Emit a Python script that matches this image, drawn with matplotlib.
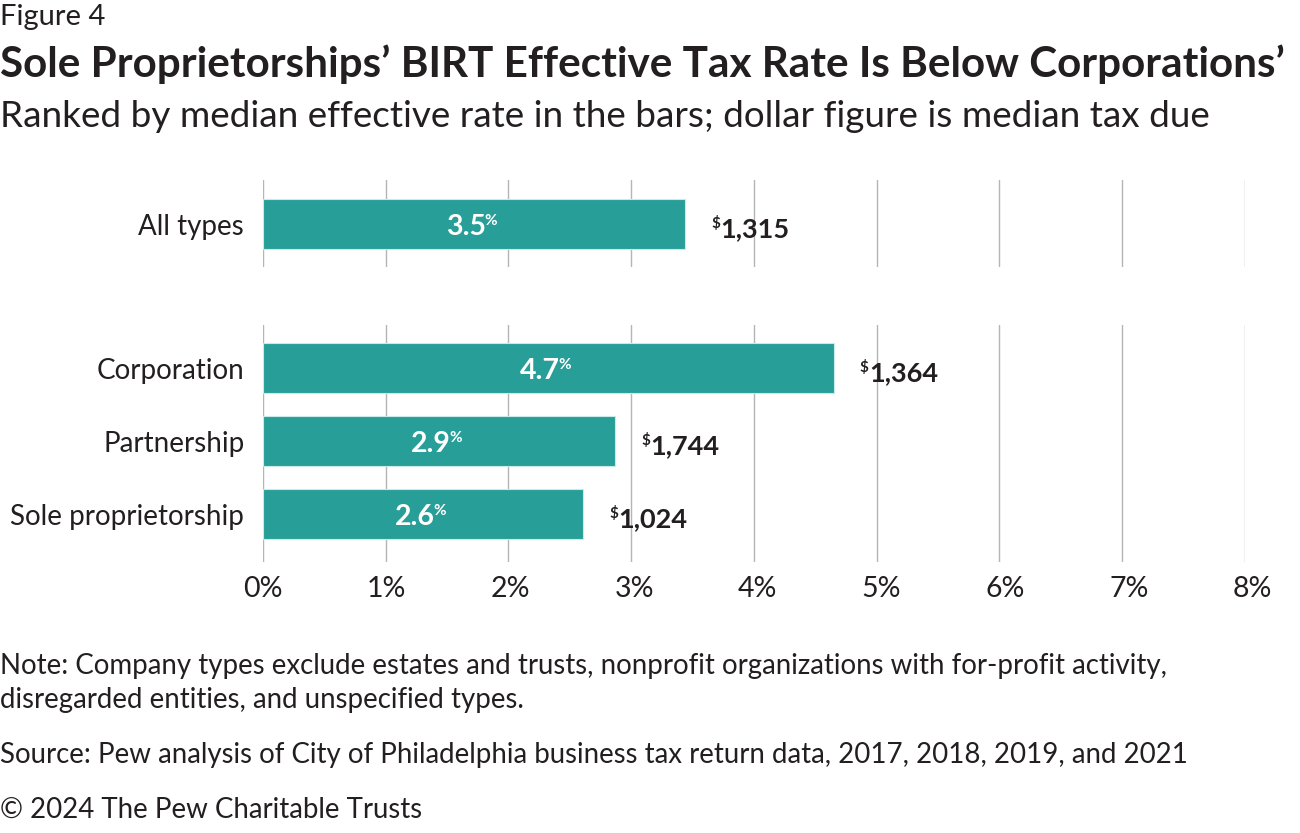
import matplotlib
matplotlib.use("Agg")
import matplotlib.pyplot as plt
from matplotlib.transforms import ScaledTranslation

plt.rcParams['font.family'] = ['Lato', 'DejaVu Sans']

# ---- data ----
top_categories = ["All types"]
top_rates = [3.44]
top_rate_labels = ["3.5"]
top_tax_labels = ["1,315"]

categories = ["Corporation", "Partnership", "Sole proprietorship"]
rates = [4.65, 2.87, 2.61]
rate_labels = ["4.7", "2.9", "2.6"]
tax_labels = ["1,364", "1,744", "1,024"]

x_ticks = [0, 1, 2, 3, 4, 5, 6, 7, 8]
x_tick_labels = ["0%", "1%", "2%", "3%", "4%", "5%", "6%", "7%", "8%"]

BAR = "#289e99"
EDGE = "#c9ebe8"
GRID = "#b5b5b5"
TXT = "#231f20"

W, H = 1300, 833
fig = plt.figure(figsize=(13, 8.33), dpi=100)

def fx(px):
    return px / W

def fy(py):
    return 1 - py / H

left_px, right_px = 263, 1244.6
ax_top = fig.add_axes([fx(left_px), fy(266.7), fx(right_px - left_px), (266.7 - 180) / H])
ax_bot = fig.add_axes([fx(left_px), fy(561.7), fx(right_px - left_px), (561.7 - 325) / H])

unit = 73.0  # px per category slot
bar_h = 50 / unit

def style(ax, show_x):
    ax.set_xlim(0, 8)
    for s in ax.spines.values():
        s.set_visible(False)
    ax.set_xticks(x_ticks)
    ax.grid(axis='x', color=GRID, linewidth=1.0)
    ax.grid(axis='y', visible=False)
    ax.set_axisbelow(True)
    ax.tick_params(axis='both', length=0)
    ax.tick_params(axis='y', pad=13.5, labelsize=20, labelcolor=TXT)
    if show_x:
        ax.set_xticklabels(x_tick_labels)
        ax.tick_params(axis='x', pad=10, labelsize=20.5, labelcolor=TXT)
        for i, lab in enumerate(ax.get_xticklabels()):
            lab.set_transform(lab.get_transform() +
                              ScaledTranslation(i * 1.0 / 100, 0, fig.dpi_scale_trans))
    else:
        ax.set_xticklabels([])

def draw(ax, cats, vals, rlabels, tlabels):
    ys = list(range(len(cats)))
    ax.barh(ys, vals, height=bar_h, color=BAR, edgecolor=EDGE, linewidth=0.8)
    ax.set_yticks(ys)
    ax.set_yticklabels(cats)
    for y, v, rl, tl in zip(ys, vals, rlabels, tlabels):
        t = ax.annotate(rl, xy=(v / 2, y), xytext=(-6, -8.0), textcoords='offset points',
                        ha='center', va='baseline', color='white', fontsize=20.5,
                        fontweight='bold')
        ax.annotate('%', xy=(1, 1), xycoords=t, xytext=(-1.2, 0.0), textcoords='offset points',
                    ha='left', va='top', color='white', fontsize=11, fontweight='bold')
        n = ax.annotate(tl, xy=(v, y), xytext=(25.5, -8.9), textcoords='offset points',
                        ha='left', va='baseline', color=TXT, fontsize=19.5,
                        fontweight='bold', annotation_clip=False)
        ax.annotate('$', xy=(0, 1), xycoords=n, xytext=(-0.3, 0.3), textcoords='offset points',
                    ha='right', va='top', color=TXT, fontsize=11, fontweight='bold')

style(ax_top, False)
ax_top.set_ylim((266.7 - 224.3) / unit, -(224.3 - 180) / unit)
draw(ax_top, top_categories, top_rates, top_rate_labels, top_tax_labels)

style(ax_bot, True)
ax_bot.set_ylim((561.7 - 368.3) / unit, -(368.3 - 325) / unit)
draw(ax_bot, categories, rates, rate_labels, tax_labels)

# ---- titles and notes ----
fig.text(fx(0), fy(25), "Figure 4", fontsize=21, color=TXT, va='baseline', ha='left')
fig.text(fx(0), fy(77), "Sole Proprietorships\u2019 BIRT Effective Tax Rate Is Below Corporations\u2019",
         fontsize=30.4, fontweight='bold', color=TXT, va='baseline', ha='left')
fig.text(fx(0), fy(127), "Ranked by median effective rate in the bars; dollar figure is median tax due",
         fontsize=26.6, color=TXT, va='baseline', ha='left')

note_fs = 19.9
fig.text(fx(0), fy(674), "Note: Company types exclude estates and trusts, nonprofit organizations with for-profit activity,",
         fontsize=note_fs, color=TXT, va='baseline', ha='left')
fig.text(fx(0), fy(708), "disregarded entities, and unspecified types.",
         fontsize=note_fs, color=TXT, va='baseline', ha='left')
fig.text(fx(0), fy(763), "Source: Pew analysis of City of Philadelphia business tax return data, 2017, 2018, 2019, and 2021",
         fontsize=note_fs, color=TXT, va='baseline', ha='left')
fig.text(fx(0), fy(818), "\u00a9 2024 The Pew Charitable Trusts",
         fontsize=note_fs, color=TXT, va='baseline', ha='left')

fig.savefig("out.png", dpi=100)
